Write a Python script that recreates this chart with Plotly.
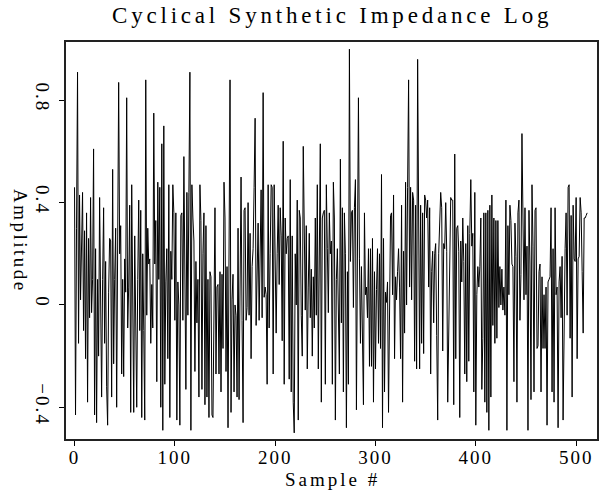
import plotly.graph_objects as go

# Amplitude values, by segment of sample index
amp_000_061 = [0.46, -0.43, 0.30, 0.91, -0.15, 0.43, 0.02, 0.20, 0.44, -0.10,
               0.29, -0.21, 0.36, -0.38, 0.26, -0.05, 0.42, -0.03, 0.10, 0.61,
               -0.43, 0.22, -0.46, 0.10, -0.20, 0.42, 0.05, -0.36, 0.10, 0.38,
               -0.15, 0.17, -0.32, -0.47, 0.05, 0.26, 0.25, -0.36, 0.53, -0.23,
               0.10, 0.30, -0.40, 0.32, 0.87, 0.20, 0.31, -0.27, 0.10, -0.28,
               0.18, 0.05, 0.81, -0.09, 0.07, 0.39, -0.42, 0.47, 0.10, -0.42,
               0.27, -0.10]
amp_062_126 = [-0.40, 0.10, 0.41, -0.10, 0.37, -0.44, 0.20, -0.10, -0.45, 0.88,
               -0.04, 0.30, 0.16, 0.18, -0.15, 0.08, -0.09, 0.75, 0.16, 0.33,
               -0.30, 0.48, 0.10, 0.46, -0.40, 0.63, -0.49, 0.70, -0.31, 0.09,
               0.22, -0.21, 0.47, -0.44, 0.21, 0.10, 0.47, 0.36, -0.06, 0.36,
               -0.45, 0.09, 0.00, -0.47, 0.35, 0.36, -0.06, 0.58, 0.10, -0.33,
               0.44, -0.04, 0.44, 0.91, -0.49, 0.47, 0.34, 0.25, -0.26, 0.17,
               -0.07, 0.10, -0.36, 0.47, 0.33]
amp_127_192 = [-0.33, 0.20, 0.36, -0.39, 0.31, -0.36, 0.10, -0.44, 0.13, 0.11,
               -0.43, -0.44, 0.05, 0.38, -0.27, 0.07, 0.08, -0.27, 0.13, -0.34,
               0.12, -0.17, 0.48, 0.34, -0.26, 0.15, -0.48, 0.30, 0.88, -0.42,
               0.02, 0.12, -0.34, 0.00, -0.04, -0.36, 0.30, -0.37, 0.16, 0.50,
               -0.06, -0.46, 0.37, 0.38, -0.06, -0.01, 0.40, -0.04, 0.28, -0.21,
               0.15, 0.22, 0.46, 0.73, -0.08, 0.22, 0.32, -0.06, 0.20, 0.45,
               -0.05, 0.83, 0.03, 0.07, 0.04, -0.31]
amp_193_258 = [0.47, -0.09, 0.20, 0.47, 0.46, -0.27, 0.47, 0.10, -0.11, 0.20,
               0.39, 0.08, 0.38, 0.27, -0.14, 0.64, -0.31, 0.34, 0.20, 0.26,
               0.27, -0.29, 0.49, -0.34, 0.27, -0.38, -0.50, 0.20, 0.00, 0.41,
               -0.45, 0.37, 0.34, -0.04, -0.20, 0.62, 0.32, -0.02, 0.31, -0.25,
               0.07, 0.28, -0.05, 0.14, -0.20, 0.11, -0.09, 0.34, -0.04, 0.47,
               -0.25, 0.40, 0.63, -0.38, 0.34, 0.36, 0.37, -0.31, 0.47, 0.22,
               -0.03, 0.36, 0.20, 0.25, -0.31, 0.48]
amp_259_324 = [0.34, -0.45, 0.10, 0.22, 0.00, -0.27, 0.57, -0.07, 0.38, -0.34,
               0.36, 0.20, -0.48, 0.13, -0.31, 1.00, 0.17, 0.36, 0.37, -0.01,
               0.38, 0.49, -0.41, 0.37, 0.81, 0.18, -0.15, 0.15, -0.13, -0.39,
               0.36, 0.04, 0.07, -0.05, 0.22, -0.24, 0.22, -0.24, 0.26, -0.38,
               0.13, -0.25, 0.06, 0.22, -0.15, 0.20, -0.17, 0.51, -0.48, 0.26,
               -0.34, 0.05, 0.01, 0.09, -0.42, 0.09, 0.35, 0.36, 0.04, 0.43,
               -0.21, 0.11, 0.02, 0.13, 0.22, 0.07]
amp_325_389 = [-0.21, 0.39, -0.38, 0.21, -0.11, 0.48, 0.00, 0.46, 0.88, 0.07,
               0.46, 0.02, 0.44, 0.41, -0.22, 0.39, -0.25, 0.96, 0.43, -0.25,
               0.39, -0.15, 0.36, -0.19, 0.43, 0.41, 0.34, 0.41, 0.07, 0.38,
               -0.27, 0.13, 0.21, -0.07, 0.20, 0.24, -0.12, -0.45, 0.20, 0.32,
               0.44, 0.38, -0.18, 0.24, 0.22, 0.40, 0.21, -0.38, -0.04, 0.09,
               0.42, 0.41, 0.41, -0.39, 0.59, -0.21, 0.30, 0.31, 0.21, -0.44,
               0.25, 0.09, 0.34, 0.17, -0.27]
amp_390_454 = [0.24, -0.30, 0.31, -0.22, 0.28, 0.49, 0.23, 0.28, -0.34, 0.44,
               -0.47, 0.04, 0.15, 0.07, 0.15, 0.34, -0.33, -0.13, 0.36, -0.38,
               0.36, -0.42, 0.37, -0.49, 0.39, -0.36, 0.43, -0.08, 0.34, -0.15,
               0.33, -0.13, 0.33, -0.01, 0.15, 0.00, 0.14, -0.02, 0.07, -0.04,
               0.41, -0.49, 0.31, 0.04, 0.39, 0.33, 0.16, 0.15, -0.30, 0.32,
               0.19, -0.38, 0.36, 0.41, -0.06, 0.12, 0.67, 0.20, 0.02, 0.38,
               0.04, 0.23, -0.49, 0.37, 0.16]
amp_455_511 = [-0.37, 0.47, 0.23, -0.34, 0.37, 0.38, -0.17, -0.16, 0.13, 0.16,
               -0.34, 0.11, -0.17, 0.04, -0.17, 0.07, -0.47, 0.09, 0.10, 0.11,
               0.38, -0.34, 0.22, -0.38, 0.38, 0.04, 0.07, -0.48, 0.09, 0.15,
               -0.05, 0.19, -0.45, -0.05, 0.22, 0.36, -0.04, 0.46, 0.47, -0.13,
               0.35, -0.36, 0.39, 0.18, 0.17, 0.42, -0.21, 0.18, 0.19, 0.42,
               0.36, 0.13, -0.11, 0.34, 0.34, 0.35, 0.36]

amplitude = (amp_000_061 + amp_062_126 + amp_127_192 + amp_193_258 +
             amp_259_324 + amp_325_389 + amp_390_454 + amp_455_511)
sample = list(range(len(amplitude)))

x_tick_vals = [0, 100, 200, 300, 400, 500]
x_tick_text = ["0", "100", "200", "300", "400", "500"]
y_tick_vals = [-0.4, 0, 0.4, 0.8]
y_tick_text = ["\u22120.4", "0", "0.4", "0.8"]

TITLE = "Cyclical Synthetic Impedance Log"
X_TITLE = "Sample #"
Y_TITLE = "Amplitude"

FONT = "Liberation Serif"
W, H = 599, 496
L, R, T, B = 66, 2, 42, 57


def spaced(s, px):
    return '<span style="letter-spacing:%spx">%s</span>' % (px, s)


fig = go.Figure()
fig.add_trace(go.Scatter(x=sample, y=amplitude, mode="lines",
                         line=dict(color="black", width=1)))

fig.update_layout(
    width=W, height=H,
    margin=dict(l=L, r=R, t=T, b=B, autoexpand=False),
    plot_bgcolor="white", paper_bgcolor="white",
    showlegend=False,
    font=dict(family=FONT, color="black", size=19),
    xaxis=dict(range=[-8.5, 520.8], tickvals=x_tick_vals,
               ticktext=[spaced(t, 2) for t in x_tick_text],
               ticks="outside", ticklen=5, tickwidth=1, tickcolor="black",
               ticklabelstandoff=-5,
               showline=True, mirror=True, linecolor="#222", linewidth=1.5,
               showgrid=False, zeroline=False, automargin=False,
               tickfont=dict(family=FONT, size=19)),
    yaxis=dict(range=[-0.524, 1.028], tickvals=y_tick_vals,
               ticktext=[spaced(t, 2) for t in y_tick_text],
               tickangle=90,
               ticks="outside", ticklen=5, tickwidth=1, tickcolor="black",
               showline=True, mirror=True, linecolor="#222", linewidth=1.5,
               showgrid=False, zeroline=False, automargin=False,
               tickfont=dict(family=FONT, size=19)),
    annotations=[
        dict(text=spaced(TITLE, 3.8), xref="paper", yref="paper",
             x=(332 - L) / (W - L - R), y=(H - 16 - B) / (H - T - B),
             xanchor="center", yanchor="middle", showarrow=False,
             font=dict(family=FONT, size=23, color="black")),
        dict(text=spaced(X_TITLE, 3), xref="paper", yref="paper",
             x=(332 - L) / (W - L - R), y=(H - 479 - B) / (H - T - B),
             xanchor="center", yanchor="middle", showarrow=False,
             font=dict(family=FONT, size=19, color="black")),
        dict(text=spaced(Y_TITLE, 2.5), xref="paper", yref="paper",
             x=(20 - L) / (W - L - R), y=(H - 241 - B) / (H - T - B),
             xanchor="center", yanchor="middle", showarrow=False,
             textangle=90,
             font=dict(family=FONT, size=19, color="black")),
    ],
)

fig.write_html("out.html",
               config={"displayModeBar": False},
               post_script="document.body.style.margin='0';"
                           "document.body.style.overflow='hidden';")
